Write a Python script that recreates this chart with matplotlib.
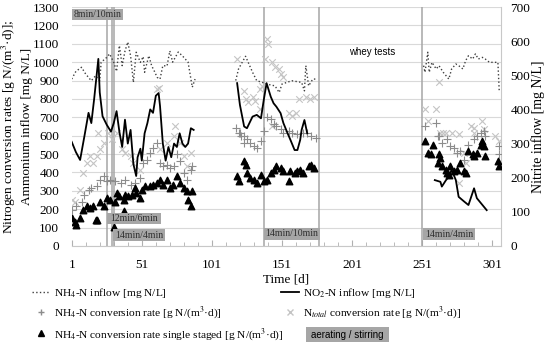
import numpy as np
import matplotlib
matplotlib.use("Agg")
import matplotlib.pyplot as plt
from matplotlib.lines import Line2D
from matplotlib.patches import Rectangle

plt.rcParams['font.family'] = ['Liberation Serif', 'DejaVu Serif']
plt.rcParams['mathtext.fontset'] = 'stix'

# NH4-N inflow [mg N/L] (left axis), three operating periods
nh4_in_d1 = [1, 4, 8, 11, 13, 15, 18, 21, 22, 26, 28, 31, 33, 35, 37, 39, 41, 43, 45, 47,
             50, 52, 53, 56, 58, 60, 62, 64, 66, 69, 71, 73, 77, 80, 84, 87, 89]
nh4_in_v1 = [908, 950, 972, 935, 917, 899, 926, 899, 999, 1026, 1045, 999, 950, 1090, 981, 1060,
             1109, 1035, 890, 1054, 999, 1030, 945, 1035, 981, 950, 917, 908, 981, 979, 1061, 1000,
             1055, 1034, 1000, 864, 908]
nh4_in_d2 = [118, 120, 125, 130, 133, 137, 140, 146, 149, 151, 158, 165, 167, 168, 170, 173, 176]
nh4_in_v2 = [900, 963, 1032, 945, 899, 890, 881, 871, 835, 881, 899, 890, 844, 981, 871, 908, 908]
nh4_in_d3 = [252, 253, 255, 256, 258, 261, 263, 266, 270, 272, 275, 277, 280, 282, 284, 287,
             289, 291, 294, 296, 299, 305, 306]
nh4_in_v3 = [981, 945, 1054, 945, 999, 963, 981, 945, 908, 963, 990, 981, 963, 1008, 1035, 1017,
             1045, 1017, 1026, 1017, 999, 999, 835]

# NO2-N inflow [mg N/L] (right axis)
no2_d1 = [1, 4, 7, 10, 13, 15, 17, 20, 21, 23, 26, 29, 31, 33, 35, 37, 39, 41, 43, 45, 47, 48,
          50, 51, 53, 55, 57, 59, 61, 63, 64, 66, 68, 70, 72, 74, 76, 78, 80, 82, 84, 86, 88]
no2_v1 = [305, 275, 252, 320, 390, 360, 430, 548, 450, 380, 355, 335, 360, 395, 335, 290, 370,
          300, 340, 240, 205, 260, 285, 250, 330, 360, 400, 390, 440, 448, 410, 300, 250, 290,
          260, 300, 290, 330, 300, 290, 300, 345, 340]
no2_d2 = [119, 121, 124, 126, 130, 133, 136, 138, 140, 143, 145, 147, 150, 152, 155, 157, 160,
          162, 164, 165, 167, 169]
no2_v2 = [477, 413, 350, 345, 379, 384, 374, 428, 477, 437, 418, 408, 389, 360, 330, 311, 281,
          281, 311, 340, 369, 330]
no2_d3 = [260, 264, 265, 268, 270, 272, 275, 277, 281, 284, 288, 290, 294, 297]
no2_v3 = [193, 188, 174, 193, 203, 223, 193, 144, 130, 120, 169, 140, 120, 105]

# NH4-N conversion rate [g N/(m3 d)]
nh4_cr_d = [1, 4, 8, 10, 13, 15, 19, 21, 24, 26, 28, 32, 36, 39, 43, 46, 50, 52, 55, 57, 59,
            62, 64, 66, 69, 71, 74, 76, 78, 81, 83, 86, 87,
            118, 120, 121, 122, 124, 124, 126, 128, 131, 133, 136, 138, 140, 143, 145, 147, 150,
            152, 156, 158, 162, 166, 169, 172, 175,
            253, 261, 262, 263, 265, 269, 271, 274, 276, 278, 281, 284, 288, 290, 293, 295, 296,
            306, 306]
nh4_cr_v = [197, 215, 242, 279, 306, 316, 324, 361, 379, 352, 361, 352, 343, 361, 334, 343, 370,
            452, 470, 507, 534, 562, 452, 434, 443, 425, 434, 498, 461, 398, 361, 416, 434,
            644, 616, 616, 598, 598, 562, 580, 562, 543, 534, 571, 625, 699, 689, 662, 653, 634,
            616, 625, 616, 607, 616, 616, 598, 589,
            652, 671, 598, 598, 562, 580, 543, 534, 507, 516, 470, 552, 580, 598, 616, 625, 598,
            498, 543]

# Ntotal conversion rate [g N/(m3 d)]
ntot_d = [1, 3, 7, 9, 12, 14, 16, 19, 20, 21, 24, 27, 30, 33, 37, 39, 43, 45, 50, 62, 63, 64,
          69, 74, 75, 78, 81, 83, 86,
          119, 124, 125, 127, 130, 132, 135, 135, 137, 139, 140, 141, 144, 144, 146, 149, 150,
          152, 156, 158, 161, 163, 168, 171, 174,
          253, 255, 261, 263, 264, 266, 268, 272, 277, 277, 281, 282, 286, 288, 288, 294, 295,
          303, 306]
ntot_v = [252, 242, 306, 398, 452, 489, 452, 489, 616, 525, 562, 616, 580, 616, 525, 507, 489,
          452, 416, 853, 857, 525, 562, 598, 651, 562, 489, 434, 507,
          1017, 844, 799, 781, 808, 789, 853, 744, 871, 1017, 1127, 1100, 999, 652, 972, 963,
          935, 917, 726, 707, 726, 799, 808, 799, 808,
          744, 680, 744, 890, 616, 616, 616, 616, 607, 343, 507, 452, 653, 644, 616, 680, 635,
          598, 571]

# NH4-N conversion rate single staged [g N/(m3 d)]
single_d = [1, 3, 4, 7, 9, 12, 14, 16, 18, 19, 21, 24, 26, 28, 31, 32, 33, 35, 38, 38, 39, 41,
            44, 46, 47, 50, 51, 53, 57, 59, 62, 64, 66, 69, 71, 73, 76, 78, 81, 83, 84, 86, 87,
            119, 120, 124, 125, 126, 128, 131, 133, 136, 138, 140, 143, 145, 147, 150, 152, 156,
            157, 160, 162, 164, 166, 170, 172, 174,
            253, 255, 257, 259, 262, 263, 264, 265, 268, 269, 270, 271, 274, 276, 278, 281, 282,
            284, 287, 288, 290, 293, 294, 295, 296, 305, 306]
single_v = [153, 133, 115, 153, 197, 215, 208, 215, 142, 142, 242, 215, 261, 252, 106, 242, 288,
            270, 252, 188, 279, 270, 279, 316, 288, 261, 306, 324, 324, 334, 343, 361, 334, 361,
            316, 334, 379, 343, 316, 297, 252, 215, 297,
            379, 352, 461, 443, 398, 370, 361, 343, 388, 352, 361, 398, 416, 434, 425, 407, 352,
            407, 398, 407, 416, 398, 434, 443, 425,
            571, 507, 498, 552, 452, 498, 480, 434, 416, 398, 388, 434, 407, 416, 452, 407, 398,
            516, 498, 489, 507, 552, 571, 543, 489, 461, 434]

# reactor switch dates and aeration / stirring phases
switch_days = [26.5, 30, 31, 138, 177.5, 251]
phase_labels = ['8min/10min', '12min/6min', '14min/4min', '14min/10min', '14min/4min']
phase_start = [1, 26, 30.3, 138, 251.4]
phase_end = [37.7, 65, 67.6, 178.4, 289]
phase_low = [1228, 120, 26, 33, 33]
phase_high = [1290, 178, 90, 100, 97]


def join(*parts):
    xs, ys = [], []
    for d, v in parts:
        xs += list(d) + [np.nan]
        ys += list(v) + [np.nan]
    return xs, ys


fig = plt.figure(figsize=(5.5, 3.43), dpi=100)
ax = fig.add_axes([71.7 / 550, 1 - 246 / 343, 429 / 550, 239 / 343])
ax2 = ax.twinx()

gridc = '#d9d9d9'
for s in ax.spines.values():
    s.set_color('#c8c8c8')
    s.set_linewidth(0.8)
for s in ax2.spines.values():
    s.set_visible(False)
ax.spines['left'].set_visible(False)
ax.spines['top'].set_visible(False)

ax.set_xlim(1, 307)
ax.set_ylim(0, 1300)
ax2.set_ylim(0, 700)
ax.set_yticks(np.arange(0, 1301, 100))
ax2.set_yticks(np.arange(0, 701, 100))
ax.set_xticks(np.arange(1, 302, 50))
ax.set_xticks(np.arange(1, 307, 10), minor=True)
ax.yaxis.grid(True, color=gridc, linewidth=0.8)
ax.set_axisbelow(True)
ax.tick_params(axis='y', length=0, labelsize=9.5, pad=9)
ax2.tick_params(axis='y', length=0, labelsize=9.5, pad=7)
ax.tick_params(axis='x', which='both', direction='in', color='#b0b0b0', labelsize=9.5, pad=9)
ax.tick_params(axis='x', which='major', length=4)
ax.tick_params(axis='x', which='minor', length=3)

for d in switch_days:
    ax.axvline(d, color='#a6a6a6', linewidth=1.1, zorder=1)

ax.scatter(ntot_d, ntot_v, marker='x', s=22, color='#c4c4c4', linewidths=0.8, zorder=2)
ax.scatter(nh4_cr_d, nh4_cr_v, marker='+', s=30, color='#8c8c8c', linewidths=0.8, zorder=3)
ax.scatter(single_d, single_v, marker='^', s=22, color='black', zorder=4)
xs, ys = join((nh4_in_d1, nh4_in_v1), (nh4_in_d2, nh4_in_v2), (nh4_in_d3, nh4_in_v3))
ax.plot(xs, ys, linestyle=':', color='#404040', linewidth=1.0, zorder=5)
xs, ys = join((no2_d1, no2_v1), (no2_d2, no2_v2), (no2_d3, no2_v3))
ax2.plot(xs, ys, color='black', linewidth=1.3, zorder=5)

for lab, x0, x1, y0, y1 in zip(phase_labels, phase_start, phase_end, phase_low, phase_high):
    ax.add_patch(Rectangle((x0, y0), x1 - x0, y1 - y0, facecolor='#a6a6a6',
                           edgecolor='none', zorder=6))
    ax.text((x0 + x1) / 2, (y0 + y1) / 2, lab, ha='center', va='center',
            fontsize=7, color='#303030', zorder=7)

ax.text(215, 1055, 'whey tests', ha='center', va='center', fontsize=7,
        family=['Liberation Sans', 'DejaVu Sans'])

ax.set_xlabel('Time [d]', fontsize=9.5, labelpad=2)
ax.set_ylabel('Nitrogen conversion rates [g N/(m$^3$·d)];\nAmmonium inflow [mg N/L]',
              fontsize=9.6, linespacing=1.25)
ax.yaxis.set_label_coords(-0.091, 0.5)
ax2.set_ylabel('Nitrite inflow [mg N/L]', fontsize=10)
ax2.yaxis.set_label_coords(1.072, 0.5)

col1_handles = [
    Line2D([], [], linestyle=':', color='#404040', linewidth=1.0),
    Line2D([], [], linestyle='none', marker='+', color='#8c8c8c', markersize=5),
    Line2D([], [], linestyle='none', marker='^', color='black', markersize=4),
]
col1_labels = [
    'NH$_4$-N inflow [mg N/L]',
    'NH$_4$-N conversion rate [g N/(m$^3$·d)]',
    'NH$_4$-N conversion rate single staged [g N/(m$^3$·d)]',
]
col2_handles = [
    Line2D([], [], color='black', linewidth=1.3),
    Line2D([], [], linestyle='none', marker='x', color='#c4c4c4', markersize=4.5),
]
col2_labels = [
    'NO$_2$-N inflow [mg N/L]',
    'N$_{total}$ conversion rate [g N/(m$^3$·d)]',
]
leg_kw = dict(loc='upper left', frameon=False, fontsize=8.2, handlelength=1.6,
              handletextpad=0.35, labelspacing=0.42, borderaxespad=0, borderpad=0)
fig.legend(col1_handles, col1_labels, bbox_to_anchor=(32 / 550, 1 - 286 / 343), **leg_kw)
fig.legend(col2_handles, col2_labels, bbox_to_anchor=(281 / 550, 1 - 286 / 343), **leg_kw)
fig.patches.append(Rectangle((306 / 550, 1 - 342 / 343), 83 / 550, 15 / 343,
                             transform=fig.transFigure, facecolor='#a6a6a6',
                             edgecolor='none'))
fig.text(347.5 / 550, 1 - 334.5 / 343, 'aerating / stirring', fontsize=7, ha='center',
         va='center', family=['Liberation Sans', 'DejaVu Sans'])

fig.savefig('out.png', dpi=100)
